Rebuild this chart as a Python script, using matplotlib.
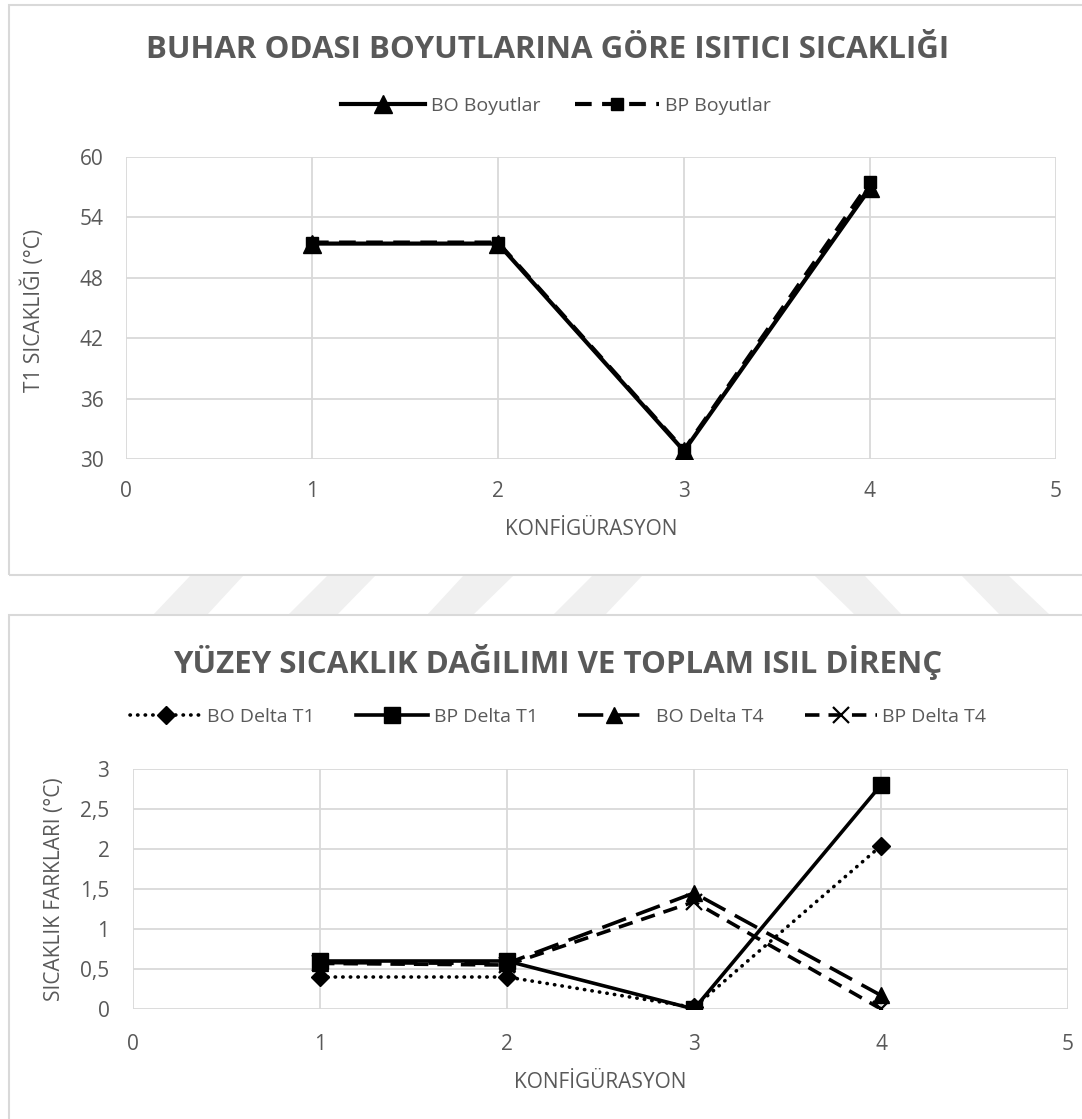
import matplotlib
matplotlib.use("Agg")
import matplotlib.pyplot as plt
from matplotlib.patches import Polygon
from matplotlib.ticker import FixedLocator

# --- data -------------------------------------------------------------
config = [1, 2, 3, 4]

bo_boyut = [51.4, 51.4, 30.8, 56.9]
bp_boyut = [51.5, 51.5, 30.9, 57.5]

bo_delta_t1 = [0.40, 0.40, 0.02, 2.04]
bp_delta_t1 = [0.60, 0.60, 0.00, 2.80]
bo_delta_t4 = [0.58, 0.57, 1.45, 0.17]
bp_delta_t4 = [0.57, 0.55, 1.34, 0.00]

top_yticks = [30, 36, 42, 48, 54, 60]
bot_yticks = [0, 0.5, 1, 1.5, 2, 2.5, 3]
bot_ylabels = ["0", "0,5", "1", "1,5", "2", "2,5", "3"]
xticks = [0, 1, 2, 3, 4, 5]

W, H = 1082, 1119
GRAY = "#595959"
GRID = "#d9d9d9"
FONT = "Open Sans"

plt.rcParams['font.family'] = [FONT, 'DejaVu Sans']


def fx(x):
    return x / W


def fy(y):
    return 1 - y / H


def box(l, t, r, b):
    return [fx(l), fy(b), fx(r) - fx(l), fy(t) - fy(b)]


fig = plt.figure(figsize=(W / 100, H / 100), dpi=100)
fig.patch.set_facecolor("white")

# chart frames
for (l, t, r, b) in [(9, 5, 1100, 575), (9, 615, 1100, 1130)]:
    fig.patches.append(plt.Rectangle((fx(l), fy(b)), fx(r) - fx(l), fy(t) - fy(b),
                                     transform=fig.transFigure, fill=False,
                                     edgecolor=GRID, linewidth=1.5))

# watermark stripes between the charts
stripes = [
    [(153, 615), (207, 615), (243, 576), (190, 576)],
    [(288, 615), (337, 615), (375, 576), (327, 576)],
    [(427, 615), (473, 615), (513, 576), (463, 576)],
    [(553, 615), (605, 615), (642, 576), (592, 576)],
    [(855, 615), (902, 615), (865, 576), (815, 576)],
    [(1000, 615), (1050, 615), (1009, 576), (962, 576)],
]
for s in stripes:
    fig.patches.append(Polygon([(fx(a), fy(b)) for a, b in s], closed=True,
                               transform=fig.transFigure, facecolor="#f0f0f0",
                               edgecolor="none", zorder=0))


def style_axes(ax):
    for sp in ax.spines.values():
        sp.set_visible(False)
    ax.grid(True, color=GRID, linewidth=1.3)
    ax.set_axisbelow(True)
    ax.tick_params(length=0, labelsize=15, labelcolor=GRAY)
    ax.set_xlim(0, 5)
    ax.xaxis.set_major_locator(FixedLocator(xticks))


# --- top chart --------------------------------------------------------
ax1 = fig.add_axes(box(126, 157, 1056, 459))
style_axes(ax1)
ax1.set_ylim(30, 60)
ax1.set_yticks(top_yticks)
ax1.tick_params(axis="y", pad=16)
ax1.tick_params(axis="x", pad=16)

ax1.plot(config, bp_boyut, color="black", linewidth=3, linestyle=(0, (4, 2.5)),
         marker="s", markersize=8.5, label="BP Boyutlar", zorder=3)
ax1.plot(config, bo_boyut, color="black", linewidth=3, linestyle="-",
         marker="^", markersize=13, label="BO Boyutlar", zorder=4)

fig.text(fx(548), fy(50), "BUHAR ODASI BOYUTLARINA GÖRE ISITICI SICAKLIĞI",
         ha="center", va="center", fontsize=22.5, fontweight="bold", color=GRAY)
fig.text(fx(33), fy(310), "T1 SICAKLIĞI (°C)", rotation=90, ha="center",
         va="center", fontsize=15, color=GRAY)
fig.text(fx(591), fy(530), "KONFİGÜRASYON", ha="center", va="center",
         fontsize=15, color=GRAY)

h1, l1 = ax1.get_legend_handles_labels()
fig.legend(h1[::-1], l1[::-1], loc="center", bbox_to_anchor=(fx(556), fy(106)),
           ncol=2, frameon=False, fontsize=14, labelcolor=GRAY,
           handlelength=4.3, handletextpad=0.3, columnspacing=1.8, numpoints=1)

# --- bottom chart -----------------------------------------------------
ax2 = fig.add_axes(box(133, 769, 1068, 1009))
style_axes(ax2)
ax2.set_ylim(0, 3)
ax2.set_yticks(bot_yticks)
ax2.set_yticklabels(bot_ylabels)
ax2.tick_params(axis="y", pad=17)
ax2.tick_params(axis="x", pad=18)

ax2.plot(config, bo_delta_t1, color="black", linewidth=2.6,
         linestyle=(0, (0.1, 2)), dash_capstyle="round",
         marker="D", markersize=9, label="BO Delta T1", zorder=3)
ax2.plot(config, bp_delta_t1, color="black", linewidth=2.6, linestyle="-",
         marker="s", markersize=12, label="BP Delta T1", zorder=4)
ax2.plot(config, bo_delta_t4, color="black", linewidth=2.6,
         linestyle=(0, (7, 3)),
         marker="^", markersize=12, label="BO Delta T4", zorder=5)
ax2.plot(config, bp_delta_t4, color="black", linewidth=2.6,
         linestyle=(0, (4, 2.5)),
         marker="x", markersize=11, markeredgewidth=1.6,
         label="BP Delta T4", zorder=6)

fig.text(fx(558), fy(662), "YÜZEY SICAKLIK DAĞILIMI VE TOPLAM ISIL DİRENÇ",
         ha="center", va="center", fontsize=22.5, fontweight="bold", color=GRAY)
fig.text(fx(55), fy(889), "SICAKLIK FARKLARI (°C)", rotation=90, ha="center",
         va="center", fontsize=15, color=GRAY)
fig.text(fx(600), fy(1082), "KONFİGÜRASYON", ha="center", va="center",
         fontsize=15, color=GRAY)

fig.legend(*ax2.get_legend_handles_labels(), loc="center",
           bbox_to_anchor=(fx(558), fy(717)), ncol=4, frameon=False,
           fontsize=14, labelcolor=GRAY, handlelength=3.7, handletextpad=0.3,
           columnspacing=2.1, numpoints=1)

fig.savefig("out.png", dpi=100, facecolor="white")
